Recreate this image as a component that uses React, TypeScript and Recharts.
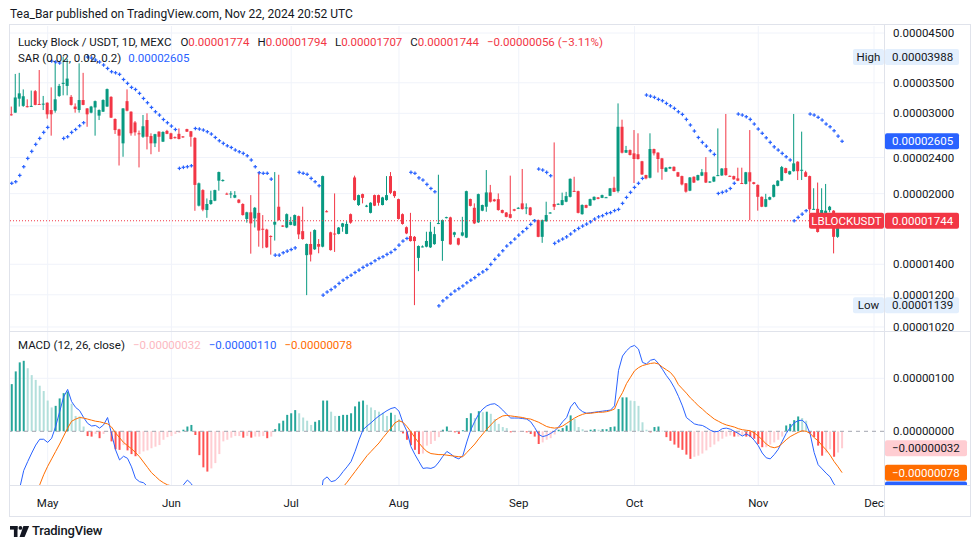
import React from 'react';
import { ComposedChart, Bar, Line, XAxis, YAxis, CartesianGrid, ReferenceLine, Cell } from 'recharts';

// All prices / indicator values are in units of 0.00000001 USDT
const PRICE_UNIT = 1e-8;

const open = [
  2985, 3010, 3230, 3115, 3110, 3100, 3355, 3145, 3140, 3165,
  3050, 3040, 3275, 3480, 3445, 3260, 3104, 3050, 3208, 3075,
  3010, 3090, 2965, 3025, 3104, 3260, 2915, 2766, 2578, 3190,
  3025, 2865, 2712, 2665, 2900, 2675, 2578, 2735, 2600, 2745,
  2712, 2660, 2705, 2670, 2770, 2740, 2650, 1882, 2036, 1841,
  1898, 1930, 2135, 2135, 2000, 1995, 1960, 1940, 1898, 1760,
  1820, 1765, 1815, 1675, 1668, 1615, 1710, 1872, 1702, 1686,
  1708, 1702, 1785, 1655, 1466, 1551, 1510, 1551, 1530, 1830,
  1645, 1635, 1632, 1692, 1632, 1803, 2170, 1888, 1995, 1872,
  1815, 1985, 1985, 1888, 1936, 2185, 2025, 1945, 1803, 1688,
  1614, 1608, 1446, 1528, 1530, 1525, 1550, 1718, 1575, 1770,
  1774, 1625, 1596, 1618, 1602, 1946, 1862, 1730, 1835, 1872,
  2012, 1942, 1945, 1841, 1818, 1803, 1848, 1855, 1904, 1860,
  1865, 1748, 1750, 1608, 1740, 1812, 1898, 1894, 1888, 1920,
  1968, 2028, 2025, 1803, 1888, 1882, 1936, 1962, 1958, 1960,
  1978, 2060, 2025, 2803, 2460, 2492, 2451, 2440, 2355, 2196,
  2167, 2505, 2460, 2390, 2235, 2270, 2290, 2228, 2185, 2107,
  2030, 2178, 2140, 2190, 2228, 2120, 2126, 2190, 2192, 2275,
  2188, 2185, 2160, 2110, 2100, 2228, 2118, 2090, 1968, 1872,
  1940, 1968, 2080, 2135, 2275, 2205, 2240, 2350, 2250, 2228,
  2185, 1848, 1852, 1700, 1800, 1840, 1835, 1608, 1774,
];

const high = [
  3104, 3660, 3680, 3385, 3220, 3365, 3374, 3733, 3275, 3170,
  3420, 3900, 3480, 3988, 3950, 3290, 3154, 3861, 3680, 3080,
  3115, 3200, 3060, 3220, 3400, 3270, 2925, 2775, 3080, 3385,
  3030, 2885, 2750, 2975, 3000, 2712, 2705, 2740, 2740, 2760,
  2720, 2670, 2780, 2675, 2775, 2745, 2660, 2115, 2045, 1952,
  2030, 2040, 2235, 2150, 2010, 2025, 2025, 1945, 1905, 1825,
  1985, 1870, 2230, 1795, 1675, 1620, 2230, 2200, 1705, 1810,
  1779, 1800, 1790, 1872, 1555, 1650, 1670, 1590, 2190, 1840,
  1650, 2002, 1690, 1725, 1740, 1809, 2190, 1990, 2000, 1890,
  1915, 1990, 1990, 1968, 2185, 2230, 2030, 1950, 1810, 1695,
  1815, 1615, 1540, 1540, 1650, 1735, 1692, 2200, 1755, 1780,
  1780, 1650, 1600, 1779, 2030, 1950, 1904, 2000, 1892, 2253,
  2090, 1948, 2002, 1845, 1822, 2190, 1852, 1868, 2265, 1904,
  1870, 1755, 1755, 1755, 1920, 1822, 2590, 1905, 2010, 2018,
  2160, 2178, 2030, 1895, 1892, 1950, 1972, 1966, 1990, 1968,
  2058, 2178, 3154, 2905, 2545, 2500, 2757, 2712, 2360, 2200,
  2712, 2510, 2465, 2395, 2285, 2292, 2295, 2232, 2190, 2110,
  2175, 2182, 2200, 2265, 2405, 2130, 2182, 2780, 2275, 2990,
  2192, 2190, 2280, 2280, 2232, 2757, 2122, 2095, 1972, 1998,
  1970, 2095, 2140, 2300, 2280, 2245, 2990, 2355, 2735, 2245,
  2190, 2055, 2115, 2055, 2100, 1880, 1840, 1805, 1794,
];

const low = [
  2965, 3010, 3104, 3100, 3090, 3100, 3125, 3130, 3050, 2920,
  2680, 3010, 3260, 3285, 3285, 3120, 3010, 3010, 3125, 2803,
  3000, 2680, 2900, 3020, 3100, 2930, 2703, 2305, 2409, 3030,
  2680, 2680, 2283, 2650, 2500, 2440, 2530, 2470, 2595, 2700,
  2630, 2640, 2630, 2650, 2730, 2535, 1834, 1875, 1830, 1770,
  1890, 1925, 2030, 2125, 1990, 1955, 1955, 1905, 1790, 1727,
  1477, 1686, 1530, 1518, 1520, 1470, 1578, 1745, 1690, 1680,
  1705, 1698, 1590, 1585, 1198, 1420, 1505, 1480, 1525, 1820,
  1500, 1490, 1628, 1650, 1630, 1718, 1930, 1880, 1904, 1868,
  1810, 1878, 1882, 1885, 1930, 1995, 1958, 1755, 1710, 1630,
  1570, 1139, 1352, 1525, 1525, 1520, 1545, 1715, 1425, 1765,
  1545, 1605, 1540, 1612, 1598, 1875, 1715, 1725, 1830, 1825,
  1912, 1920, 1835, 1810, 1775, 1765, 1830, 1850, 1845, 1803,
  1790, 1745, 1605, 1560, 1735, 1808, 1841, 1890, 1885, 1915,
  1962, 2018, 1810, 1798, 1858, 1878, 1932, 1944, 1955, 1956,
  1975, 2015, 2010, 2450, 2455, 2425, 2110, 2375, 2198, 2150,
  2160, 2425, 2225, 2145, 2230, 2265, 2238, 2175, 2085, 2010,
  2025, 2110, 2135, 2185, 2110, 2110, 2120, 2185, 2188, 2190,
  2178, 2145, 2130, 2100, 2095, 1750, 2095, 1835, 1868, 1868,
  1935, 1962, 2075, 2130, 2215, 2200, 2235, 2142, 2142, 2175,
  1809, 1845, 1643, 1690, 1780, 1820, 1479, 1600, 1707,
];

const close = [
  2970, 3250, 3318, 3270, 3100, 3115, 3130, 3140, 3150, 2985,
  2985, 3220, 3445, 3500, 3575, 3130, 3065, 3208, 3130, 2985,
  3104, 3190, 3050, 3208, 3390, 2935, 2757, 2680, 3075, 3040,
  2712, 2725, 2700, 2810, 2665, 2578, 2700, 2665, 2730, 2705,
  2635, 2650, 2635, 2660, 2735, 2665, 2090, 2107, 1845, 1898,
  1936, 2036, 2230, 2142, 1995, 2002, 1985, 1910, 1795, 1820,
  1721, 1862, 1660, 1668, 1525, 1610, 1735, 1750, 1696, 1803,
  1735, 1795, 1628, 1590, 1551, 1470, 1664, 1530, 2185, 1825,
  1504, 1630, 1685, 1721, 1716, 1727, 1936, 1985, 1958, 1882,
  1910, 1882, 1910, 1962, 1985, 2008, 1975, 1760, 1716, 1636,
  1574, 1574, 1535, 1532, 1575, 1650, 1630, 1724, 1750, 1776,
  1548, 1645, 1546, 1645, 2025, 1880, 1721, 1995, 1888, 2012,
  1920, 1925, 1841, 1815, 1779, 1770, 1835, 1862, 1850, 1865,
  1795, 1752, 1608, 1750, 1795, 1818, 1872, 1900, 1936, 1975,
  2155, 2022, 1815, 1888, 1862, 1945, 1968, 1948, 1985, 1964,
  2054, 2018, 2803, 2459, 2492, 2431, 2382, 2382, 2203, 2160,
  2505, 2451, 2382, 2265, 2280, 2287, 2243, 2180, 2095, 2020,
  2170, 2115, 2196, 2228, 2115, 2126, 2178, 2196, 2270, 2196,
  2182, 2150, 2135, 2105, 2228, 2126, 2100, 1968, 1872, 1945,
  1965, 2090, 2135, 2287, 2220, 2240, 2330, 2240, 2256, 2178,
  1848, 1852, 1648, 1841, 1835, 1872, 1608, 1800, 1744,
];

const sar = [
  2107, 2124, 2193, 2291, 2389, 2476, 2565, 2643, 2725, 2794,
  3906, 3887, 3867, 2643, 2665, 2725, 2765, 2817, 2861, 3986,
  3966, 3926, 3887, 3829, 3763, 3701, 3682, 3653, 3559, 3490,
  3420, 3384, 3318, 3234, 3165, 3091, 3024, 2974, 2908, 2861,
  2813, 2765, 2272, 2284, 2291, 2302, 2779, 2771, 2757, 2734,
  2702, 2656, 2612, 2578, 2546, 2525, 2492, 2471, 2451, 2421,
  2370, 2291, 2223, 2216, 2216, 2152, 1466, 1466, 1484, 1496,
  1508, 1521, 2227, 2216, 2205, 2160, 2124, 2081, 1198, 1217,
  1232, 1249, 1271, 1292, 1309, 1325, 1343, 1359, 1378, 1394,
  1406, 1425, 1442, 1454, 1472, 1487, 1508, 1542, 1574, 1595,
  2227, 2216, 2166, 2142, 2096, 2053, 2019, 1135, 1164, 1182,
  1203, 1223, 1238, 1255, 1275, 1292, 1309, 1330, 1347, 1364,
  1399, 1435, 1466, 1499, 1535, 1561, 1590, 1622, 1650, 1678,
  1712, 1744, 2264, 2253, 2227, 2189, 1556, 1574, 1590, 1608,
  1631, 1658, 1678, 1698, 1715, 1735, 1759, 1779, 1789, 1809,
  1817, 1836, 1847, 1904, 1962, 2013, 2064, 2107, 2160, 3290,
  3272, 3252, 3219, 3197, 3154, 3116, 3076, 3024, 2984, 2910,
  2828, 2743, 2656, 2591, 2542, 2483, 2438, 2002, 2013, 2026,
  2053, 2107, 2989, 2974, 2949, 2910, 2842, 2771, 2712, 2651,
  2591, 2533, 2492, 2451, 2409, 2370, 1744, 1774, 1803, 1835,
  2989, 2974, 2940, 2900, 2842, 2803, 2747, 2674, 2605,
];

const macdHist = [
  89, 113, 130, 133, 119, 106, 97, 86, 76, 58,
  45, 48, 62, 72, 75, 52, 29, 28, 9, -9,
  -10, -5, -13, -5, -1, -19, -34, -35, -26, -36,
  -43, -47, -43, -38, -36, -32, -29, -26, -16, -11,
  -9, -5, -3, 3, 9, 12, -7, -45, -68, -76,
  -70, -60, -43, -19, -16, -12, -9, -9, -12, -9,
  -12, -10, -10, -9, -13, -10, 4, 15, 20, 31,
  34, 40, 34, 26, 20, 12, 18, 21, 58, 58,
  37, 29, 29, 31, 31, 34, 47, 56, 58, 50,
  45, 40, 37, 35, 29, 35, 31, 23, -4, -16,
  -26, -35, -43, -42, -27, -24, -18, -11, 3, 9,
  1, -2, -5, 2, 25, 34, 25, 38, 36, 37,
  33, 23, 14, 8, 6, -2, -2, -1, -1, -2,
  -5, -10, -24, -21, -16, -13, -6, 3, 6, 11,
  30, 23, 8, 4, 1, 3, 4, 3, 4, 4,
  8, 9, 42, 64, 64, 58, 57, 48, 17, 3,
  -2, 8, 9, 1, -11, -18, -25, -31, -35, -44,
  -52, -48, -46, -42, -36, -30, -25, -19, -14, -10,
  -8, -10, -10, -8, -10, -11, -14, -24, -30, -30,
  -25, -21, -16, -10, 11, 14, 21, 28, 25, 20,
  -4, -11, -27, -46, -40, -34, -48, -40, -32,
];

const macdLine = [
  -208, -156, -107, -74, -57, -41, -26, -15, -15, -21,
  -13, 9, 37, 65, 79, 56, 45, 39, 26, 15,
  10, 11, 6, 12, 26, -5, -35, -54, -47, -51,
  -67, -89, -95, -97, -104, -110, -114, -118, -113, -112,
  -112, -110, -109, -101, -92, -99, -114, -163, -203, -230,
  -242, -247, -241, -222, -223, -222, -221, -223, -229, -228,
  -234, -235, -237, -238, -245, -245, -230, -215, -205, -186,
  -175, -159, -157, -158, -159, -164, -154, -146, -92, -86,
  -95, -93, -86, -76, -67, -57, -38, -16, 3, 10,
  16, 23, 29, 34, 39, 43, 45, 38, 16, 0,
  -29, -44, -57, -70, -69, -70, -67, -58, -47, -38,
  -43, -49, -52, -46, -20, 3, 19, 33, 42, 48,
  51, 52, 47, 40, 32, 25, 25, 25, 24, 23,
  18, 7, -6, -10, -8, -4, 1, 8, 18, 26,
  46, 55, 43, 37, 34, 35, 36, 37, 38, 39,
  40, 48, 115, 142, 152, 159, 162, 155, 130, 127,
  134, 136, 128, 117, 105, 95, 82, 66, 48, 26,
  20, 14, 12, 11, 7, 2, -1, 0, 5, 6,
  4, 0, -4, -9, -5, -9, -17, -27, -41, -50,
  -52, -44, -34, -19, -4, 7, 16, 20, 21, 14,
  -5, -40, -63, -71, -79, -86, -100, -106, -110,
];

const signalLine = [
  -297, -269, -237, -204, -174, -147, -123, -101, -82, -66,
  -52, -38, -24, -9, 6, 19, 23, 26, 25, 23,
  21, 19, 18, 16, 14, 8, -3, -12, -21, -27,
  -33, -40, -48, -58, -68, -78, -85, -92, -97, -101,
  -103, -105, -106, -104, -103, -105, -107, -118, -135, -154,
  -172, -187, -198, -203, -207, -210, -212, -214, -217, -219,
  -222, -225, -227, -229, -232, -235, -234, -230, -225, -217,
  -209, -199, -191, -184, -179, -176, -172, -167, -150, -142,
  -133, -122, -113, -105, -96, -86, -76, -66, -56, -46,
  -38, -30, -22, -12, -3, 6, 16, 20, 17, 9,
  -1, -12, -22, -31, -38, -42, -43, -44, -44, -45,
  -46, -47, -48, -48, -40, -32, -24, -14, -5, 4,
  12, 20, 25, 29, 30, 29, 28, 27, 26, 24,
  23, 20, 17, 13, 9, 7, 6, 7, 10, 15,
  20, 25, 29, 32, 34, 34, 35, 36, 36, 37,
  39, 42, 60, 73, 90, 102, 114, 120, 124, 126,
  128, 129, 127, 121, 116, 111, 102, 88, 80, 72,
  63, 56, 48, 42, 35, 29, 23, 19, 15, 12,
  10, 8, 5, 3, 2, 1, -3, -9, -16, -24,
  -29, -31, -29, -23, -16, -10, -6, -2, 1, 0,
  -4, -12, -18, -27, -35, -45, -57, -67, -78,
];

// bar index of the first daily bar of each month (time axis ticks)
const monthTickIndex = [9, 40, 70, 97, 127, 156, 187, 216];
const monthTickLabel = ['May', 'Jun', 'Jul', 'Aug', 'Sep', 'Oct', 'Nov', 'Dec'];
const priceTicks = [1020, 1200, 1400, 2000, 2400, 3000, 3500, 4500];
const priceGridValues = [1020, 1200, 1400, 1700, 2000, 2400, 3000, 3500, 4500];
const macdTicks = [0, 100];

const X_DOMAIN: [number, number] = [-0.44, 218.5];
const PRICE_DOMAIN: [number, number] = [999.6, 4662];
const MACD_DOMAIN: [number, number] = [-101.3, 189.2];

const RED = '#f23645';
const GREEN = '#089981';
const BLUE = '#2962ff';
const ORANGE = '#ff6d00';
const GRID = '#f0f3fa';
const BORDER = '#e0e3eb';
const TEXT = '#131722';
const FONT = '"Trebuchet MS", Roboto, "Noto Sans", sans-serif';
const MACD_PLOT_H = 154;

const data = open.map((o, i) => ({
  i,
  open: o,
  high: high[i],
  low: low[i],
  close: close[i],
  range: [low[i], high[i]],
  sar: sar[i],
  hist: macdHist[i],
  macd: macdLine[i],
  signal: signalLine[i],
}));

const last = open.length - 1;
const periodHigh = Math.max(...high);
const periodLow = Math.min(...low);
const change = close[last] - close[last - 1];
const changePct = (change / close[last - 1]) * 100;

const fmt = (v: number) => (v * PRICE_UNIT).toFixed(8).replace('-', '\u2212');

const histColor = (k: number) => {
  const v = macdHist[k];
  const p = k > 0 ? macdHist[k - 1] : v;
  if (v >= 0) return v >= p ? '#26a69a' : '#b2dfdb';
  return v < p ? '#ff5252' : '#ffcdd2';
};

const Candle = (props: any) => {
  const { x, y, width, height, payload } = props;
  if (x == null || y == null || !payload) return null;
  const top = Math.min(y, y + height);
  const bottom = Math.max(y, y + height);
  const lh = Math.log(payload.high);
  const ll = Math.log(payload.low);
  const span = lh - ll || 1;
  const toY = (p: number) => top + ((bottom - top) * (lh - Math.log(p))) / span;
  const up = payload.close >= payload.open;
  const color = up ? GREEN : RED;
  const cx = x + width / 2;
  const bTop = toY(Math.max(payload.open, payload.close));
  const bBot = toY(Math.min(payload.open, payload.close));
  return (
    <g>
      <line x1={cx} x2={cx} y1={top} y2={bottom} stroke={color} strokeWidth={1} />
      <rect x={x} y={bTop} width={width} height={Math.max(1, bBot - bTop)} fill={color} />
    </g>
  );
};

const SarDot = (props: any) => {
  const { cx, cy } = props;
  if (cx == null || cy == null) return null;
  return (
    <g>
      <line x1={cx - 1.8} x2={cx + 1.8} y1={cy} y2={cy} stroke={BLUE} strokeWidth={1.2} />
      <line x1={cx} x2={cx} y1={cy - 1.8} y2={cy + 1.8} stroke={BLUE} strokeWidth={1.2} />
    </g>
  );
};

type BadgeProps = {
  viewBox?: any;
  text: string;
  bg: string;
  fg: string;
  width?: number;
  tag?: string;
  tagBg?: string;
  tagFg?: string;
  tagWidth?: number;
  clipHeight?: number;
};

const PriceBadge = ({ viewBox, text, bg, fg, width = 74, tag, tagBg, tagFg, tagWidth = 0, clipHeight }: BadgeProps) => {
  if (!viewBox) return null;
  const right = viewBox.x + viewBox.width;
  const cy = viewBox.y + (viewBox.height || 0) / 2;
  const content = (
    <g>
      {tag ? (
        <g>
          <rect x={right - tagWidth} y={cy - 8} width={tagWidth} height={16} rx={2} fill={tagBg} />
          <text x={right - tagWidth / 2} y={cy} dy="0.36em" textAnchor="middle" fontSize={11.5} fill={tagFg}>
            {tag}
          </text>
        </g>
      ) : null}
      <rect x={right + 1} y={cy - 8} width={width} height={16} rx={2} fill={bg} />
      <text x={right + 8} y={cy} dy="0.36em" fontSize={11.5} fill={fg}>
        {text}
      </text>
    </g>
  );
  if (clipHeight != null) {
    return (
      <svg x={0} y={0} width={2000} height={clipHeight} overflow="hidden">
        {content}
      </svg>
    );
  }
  return content;
};

const abs = (style: React.CSSProperties): React.CSSProperties => ({ position: 'absolute', ...style });

export default function App() {
  const axisTick = { fontSize: 11.5, fill: TEXT };
  return (
    <div style={abs({ left: 0, top: 0, width: 980, height: 549, background: '#fff', fontFamily: FONT, color: TEXT, overflow: 'hidden' })}>
      <div style={abs({ left: 10, top: 6, fontSize: 12, lineHeight: '16px', whiteSpace: 'nowrap' })}>
        Tea_Bar published on TradingView.com, Nov 22, 2024 20:52 UTC
      </div>

      {/* price pane */}
      <div style={abs({ left: 10, top: 26 })}>
        <ComposedChart width={960} height={305} data={data} margin={{ top: 0, right: 0, bottom: 0, left: 0 }}>
          <CartesianGrid stroke={GRID} verticalValues={monthTickIndex} horizontalValues={priceGridValues} />
          <XAxis dataKey="i" type="number" domain={X_DOMAIN} ticks={monthTickIndex} hide allowDataOverflow />
          <YAxis
            orientation="right"
            scale="log"
            domain={PRICE_DOMAIN}
            ticks={priceTicks}
            allowDataOverflow
            width={86}
            interval={0}
            tickFormatter={fmt}
            axisLine={false}
            tickLine={false}
            tickMargin={3}
            tick={axisTick}
          />
          <Bar dataKey="range" barSize={3} isAnimationActive={false} shape={(p: any) => <Candle {...p} />} />
          <Line dataKey="sar" stroke="none" dot={<SarDot />} activeDot={false} isAnimationActive={false} />
          <ReferenceLine y={periodHigh} stroke="none" label={<PriceBadge text={fmt(periodHigh)} bg="#e3effd" fg={TEXT} tag="High" tagBg="#e3effd" tagFg={TEXT} tagWidth={31} />} />
          <ReferenceLine y={periodLow} stroke="none" label={<PriceBadge text={fmt(periodLow)} bg="#e3effd" fg={TEXT} tag="Low" tagBg="#e3effd" tagFg={TEXT} tagWidth={31} />} />
          <ReferenceLine y={sar[last]} stroke="none" label={<PriceBadge text={fmt(sar[last])} bg={BLUE} fg="#fff" />} />
          <ReferenceLine
            y={close[last]}
            stroke={RED}
            strokeDasharray="1 2"
            label={<PriceBadge text={fmt(close[last])} bg={RED} fg="#fff" tag="LBLOCKUSDT" tagBg={RED} tagFg="#fff" tagWidth={75} />}
          />
        </ComposedChart>
      </div>

      {/* MACD pane + time axis */}
      <div style={abs({ left: 10, top: 331 })}>
        <ComposedChart width={960} height={185} data={data} margin={{ top: 0, right: 0, bottom: 0, left: 0 }}>
          <CartesianGrid stroke={GRID} verticalValues={monthTickIndex} horizontalValues={[100]} />
          <XAxis
            dataKey="i"
            type="number"
            domain={X_DOMAIN}
            ticks={monthTickIndex}
            interval={0}
            allowDataOverflow
            height={31}
            axisLine={false}
            tickLine={false}
            tickMargin={8}
            tick={axisTick}
            tickFormatter={(v: number) => monthTickLabel[monthTickIndex.indexOf(v)] ?? ''}
          />
          <YAxis
            orientation="right"
            domain={MACD_DOMAIN}
            ticks={macdTicks}
            allowDataOverflow
            width={86}
            interval={0}
            tickFormatter={fmt}
            axisLine={false}
            tickLine={false}
            tickMargin={3}
            tick={axisTick}
          />
          <ReferenceLine y={0} stroke="#a3a6af" strokeDasharray="4 4" />
          <Bar dataKey="hist" barSize={2} isAnimationActive={false}>
            {data.map((d, k) => (
              <Cell key={k} fill={histColor(k)} />
            ))}
          </Bar>
          <Line dataKey="macd" stroke={BLUE} strokeWidth={1} dot={false} activeDot={false} isAnimationActive={false} />
          <Line dataKey="signal" stroke={ORANGE} strokeWidth={1} dot={false} activeDot={false} isAnimationActive={false} />
          <ReferenceLine y={macdHist[last]} stroke="none" label={<PriceBadge text={fmt(macdHist[last])} bg="#ffcdd2" fg={TEXT} width={82} />} />
          <ReferenceLine y={macdLine[last]} stroke="none" ifOverflow="visible" label={<PriceBadge text={fmt(macdLine[last])} bg={BLUE} fg="#fff" width={82} clipHeight={MACD_PLOT_H} />} />
          <ReferenceLine y={signalLine[last]} stroke="none" label={<PriceBadge text={fmt(signalLine[last])} bg={ORANGE} fg="#fff" width={82} />} />
        </ComposedChart>
      </div>

      {/* blank price-scale corner of the time axis row (clips the last month label like the reference) */}
      <div style={abs({ left: 885, top: 486, width: 85, height: 29, background: '#fff' })} />

      {/* frame and pane separators */}
      <div style={abs({ left: 9, top: 24, width: 962, height: 493, border: `1px solid ${BORDER}`, boxSizing: 'border-box', pointerEvents: 'none' })} />
      <div style={abs({ left: 10, top: 331, width: 960, height: 1, background: BORDER })} />
      <div style={abs({ left: 10, top: 485, width: 960, height: 1, background: BORDER })} />
      <div style={abs({ left: 884, top: 25, width: 1, height: 491, background: BORDER })} />

      {/* legends */}
      <div style={abs({ left: 18, top: 34, fontSize: 11.5, lineHeight: '16px', whiteSpace: 'nowrap' })}>
        <span>Lucky Block / USDT, 1D, MEXC</span>
        <span style={{ marginLeft: 9 }}>O<span style={{ color: RED }}>{fmt(open[last])}</span></span>
        <span style={{ marginLeft: 8 }}>H<span style={{ color: RED }}>{fmt(high[last])}</span></span>
        <span style={{ marginLeft: 8 }}>L<span style={{ color: RED }}>{fmt(low[last])}</span></span>
        <span style={{ marginLeft: 8 }}>C<span style={{ color: RED }}>{fmt(close[last])}</span></span>
        <span style={{ marginLeft: 8, color: RED }}>
          {fmt(change)} ({changePct.toFixed(2).replace('-', '\u2212')}%)
        </span>
      </div>
      <div style={abs({ left: 18, top: 50, fontSize: 11.5, lineHeight: '16px', whiteSpace: 'nowrap' })}>
        <span>SAR (0.02, 0.02, 0.2)</span>
        <span style={{ marginLeft: 7, color: BLUE }}>{fmt(sar[last])}</span>
      </div>
      <div style={abs({ left: 18, top: 337, fontSize: 11.5, lineHeight: '16px', whiteSpace: 'nowrap' })}>
        <span>MACD (12, 26, close)</span>
        <span style={{ marginLeft: 8, color: '#fcb8bf' }}>{fmt(macdHist[last])}</span>
        <span style={{ marginLeft: 8, color: BLUE }}>{fmt(macdLine[last])}</span>
        <span style={{ marginLeft: 8, color: ORANGE }}>{fmt(signalLine[last])}</span>
      </div>

      {/* TradingView logo */}
      <svg style={abs({ left: 10, top: 525 })} width={20} height={13} viewBox="0 0 20 13">
        <rect x={0} y={1} width={7.5} height={3.6} fill={TEXT} />
        <rect x={3.9} y={1} width={3.6} height={11} fill={TEXT} />
        <circle cx={10.4} cy={2.9} r={1.9} fill={TEXT} />
        <polygon points="13.4,1 19.2,1 14.6,12 9.6,12" fill={TEXT} />
      </svg>
      <div style={abs({ left: 32, top: 523, fontSize: 13, lineHeight: '16px', fontWeight: 500, letterSpacing: -0.2, whiteSpace: 'nowrap' })}>
        TradingView
      </div>
    </div>
  );
}
